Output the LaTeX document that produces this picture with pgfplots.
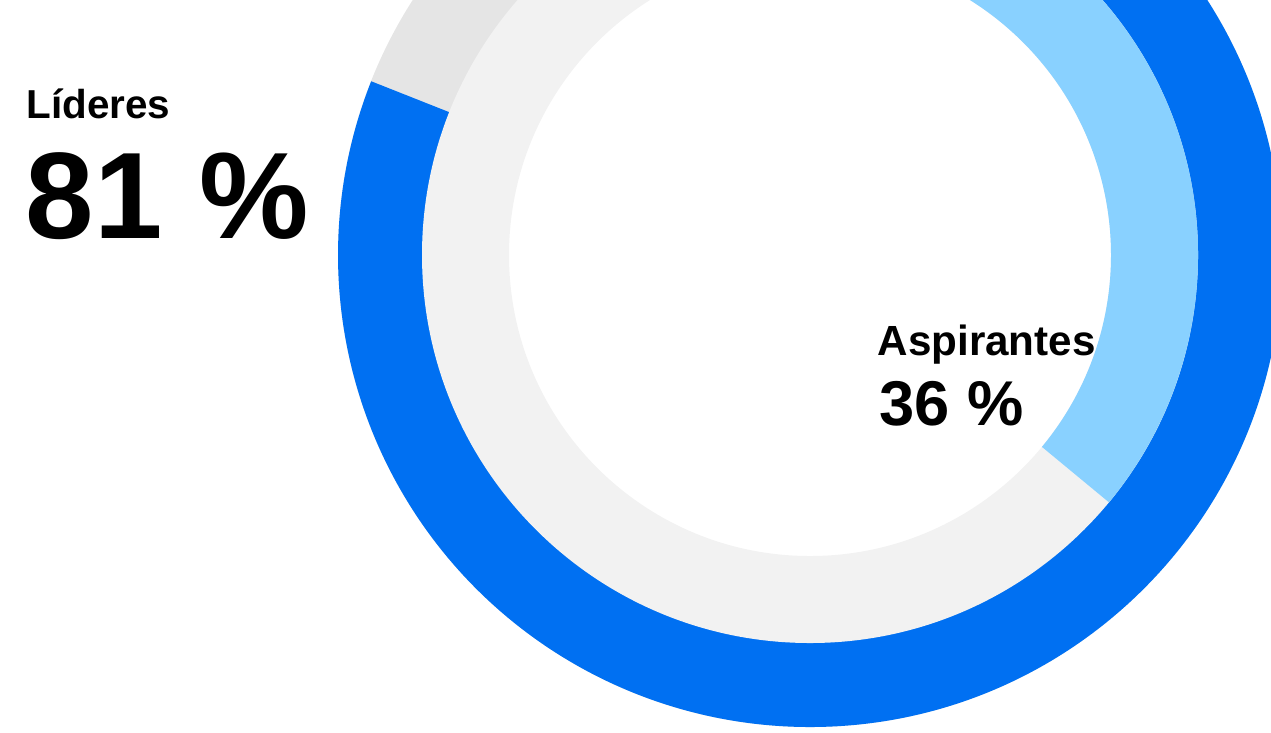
\documentclass[border=0pt]{standalone}
\usepackage{pgfplots}
\pgfplotsset{compat=1.18}
\usepackage{fontspec}
\setmainfont{Liberation Sans}

\definecolor{darkblue}{HTML}{0070F2}
\definecolor{lightblue}{HTML}{89D1FF}
\definecolor{outergray}{HTML}{E5E5E5}
\definecolor{innergray}{HTML}{F2F2F2}

% shares (percent)
\def\lideres{81}
\def\aspirantes{36}

% annular sector: colour, start angle, end angle, inner r, outer r (axis units)
\newcommand{\sector}[5]{%
  \fill[#1] (axis cs:{810+#5*cos(#2)},{477+#5*sin(#2)})
    arc[start angle=#2, end angle=#3, radius=#5]
    -- (axis cs:{810+#4*cos(#3)},{477+#4*sin(#3)})
    arc[start angle=#3, end angle=#2, radius=#4] -- cycle;}

\begin{document}
\begin{tikzpicture}
\begin{axis}[
  scale only axis,
  width=12.71cm, height=7.32cm,
  xmin=0, xmax=1271, ymin=0, ymax=732,
  hide axis,
]
\pgfmathsetmacro{\aend}{90-3.6*\lideres}
\pgfmathsetmacro{\bend}{90-3.6*\aspirantes}
% outer ring
\sector{outergray}{90}{-270}{387}{472}
\sector{darkblue}{90}{\aend}{387}{472}
% inner ring
\sector{innergray}{90}{-270}{301}{388}
\sector{lightblue}{90}{\bend}{301}{388}

\node[anchor=base west, inner sep=0pt, font=\fontsize{11.5}{14}\selectfont\bfseries]
  at (axis cs:26,614) {Líderes};
\node[anchor=base west, inner sep=0pt, font=\fontsize{35}{40}\selectfont\bfseries]
  at (axis cs:25,494) {\lideres\hspace{0.3em}\%};
\node[anchor=base west, inner sep=0pt, font=\fontsize{12}{14}\selectfont\bfseries]
  at (axis cs:877,377) {Aspirantes};
\node[anchor=base west, inner sep=0pt, font=\fontsize{18}{20}\selectfont\bfseries]
  at (axis cs:879,307) {\aspirantes~\%};
\end{axis}
\pgfresetboundingbox
\path (0,0) rectangle (12.71cm,7.32cm);
\end{tikzpicture}
\end{document}
